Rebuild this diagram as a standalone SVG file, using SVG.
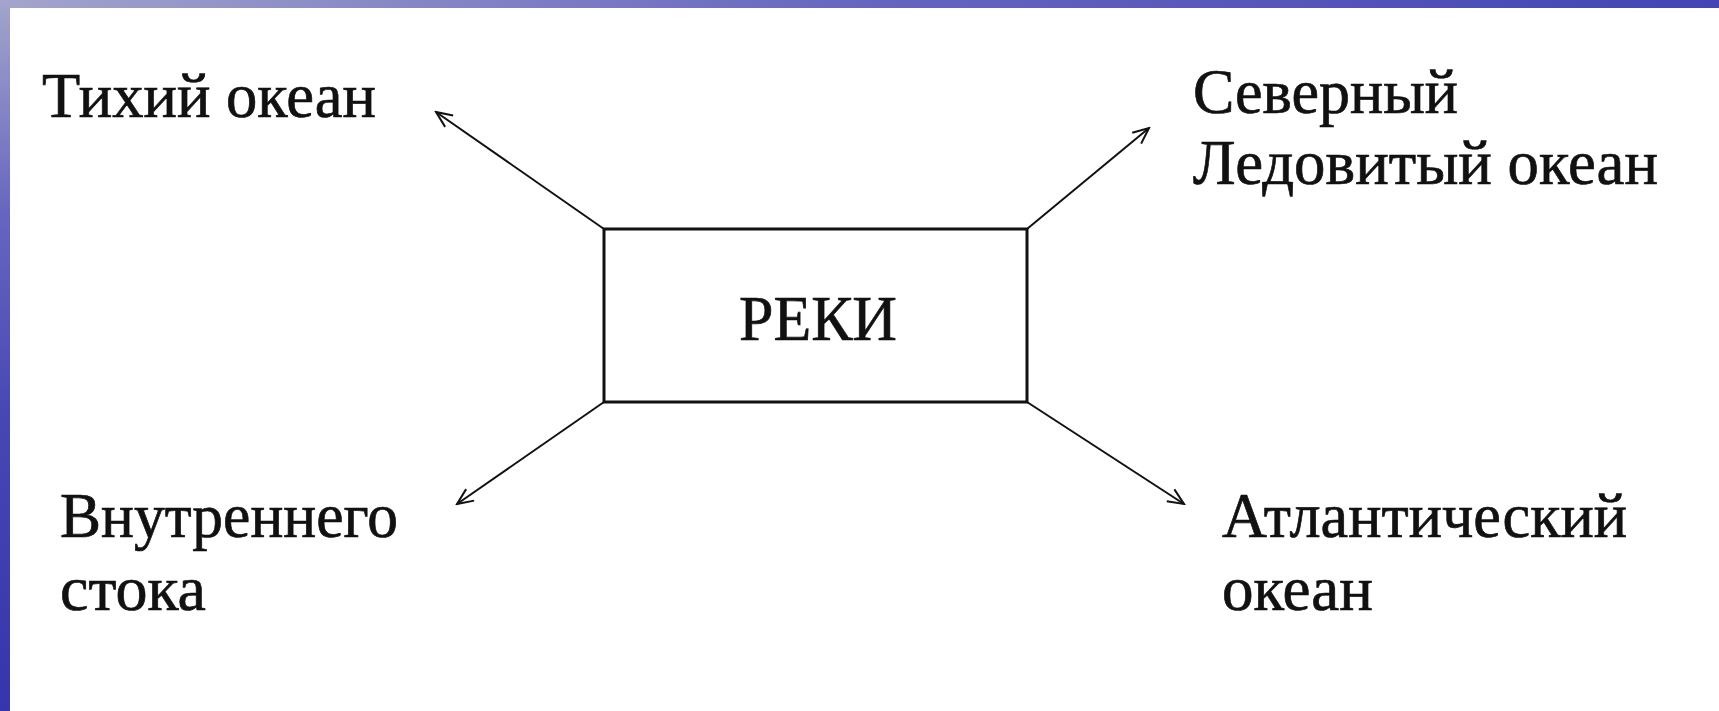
<svg xmlns="http://www.w3.org/2000/svg" width="1719" height="711" viewBox="0 0 1719 711">
  <defs>
    <linearGradient id="leftg" x1="0" y1="0" x2="0" y2="1">
      <stop offset="0" stop-color="#a4a4cc"/>
      <stop offset="0.3" stop-color="#6666c0"/>
      <stop offset="0.6" stop-color="#4646b4"/>
      <stop offset="1" stop-color="#3636ac"/>
    </linearGradient>
    <linearGradient id="topg" x1="0" y1="0" x2="1" y2="0">
      <stop offset="0" stop-color="#a4a4cc"/>
      <stop offset="0.5" stop-color="#6666c0"/>
      <stop offset="1" stop-color="#4444b4"/>
    </linearGradient>
    <marker id="arr" viewBox="0 0 20 20" refX="18" refY="10" markerWidth="20" markerHeight="20" markerUnits="userSpaceOnUse" orient="auto">
      <path d="M2,3 L18,10 L2,17" fill="none" stroke="#111" stroke-width="2"/>
    </marker>
    <style>
      .t { font-family: "Liberation Serif", "Times New Roman", serif; font-size: 64px; fill: #111; stroke: #111; stroke-width: 0.7; }
      .box { fill: #fff; stroke: #111; stroke-width: 3; }
      .conn { stroke: #111; stroke-width: 2; fill: none; marker-end: url(#arr); }
    </style>
  </defs>

  <rect x="0" y="0" width="1719" height="711" fill="#fff"/>
  <rect x="0" y="0" width="1719" height="8" fill="url(#topg)"/>
  <rect x="0" y="0" width="10" height="711" fill="url(#leftg)"/>

  <g id="connectors">
    <line class="conn" x1="604" y1="229" x2="436" y2="112"/>
    <line class="conn" x1="1027" y1="229" x2="1149" y2="128"/>
    <line class="conn" x1="604" y1="402" x2="457" y2="504"/>
    <line class="conn" x1="1027" y1="402" x2="1184" y2="504"/>
  </g>

  <g id="node-reki">
    <rect class="box" x="604" y="229" width="423" height="173"/>
    <text class="t" x="739" y="340" textLength="158" lengthAdjust="spacingAndGlyphs">РЕКИ</text>
  </g>

  <g id="node-pacific">
    <text class="t" x="42" y="117" textLength="334" lengthAdjust="spacingAndGlyphs">Тихий океан</text>
  </g>

  <g id="node-arctic">
    <text class="t" x="1193" y="113" textLength="265" lengthAdjust="spacingAndGlyphs">Северный</text>
    <text class="t" x="1193" y="184" textLength="465" lengthAdjust="spacingAndGlyphs">Ледовитый океан</text>
  </g>

  <g id="node-internal">
    <text class="t" x="60" y="537" textLength="338" lengthAdjust="spacingAndGlyphs">Внутреннего</text>
    <text class="t" x="60" y="610" textLength="146" lengthAdjust="spacingAndGlyphs">стока</text>
  </g>

  <g id="node-atlantic">
    <text class="t" x="1222" y="537" textLength="405" lengthAdjust="spacingAndGlyphs">Атлантический</text>
    <text class="t" x="1222" y="610" textLength="151" lengthAdjust="spacingAndGlyphs">океан</text>
  </g>
</svg>
